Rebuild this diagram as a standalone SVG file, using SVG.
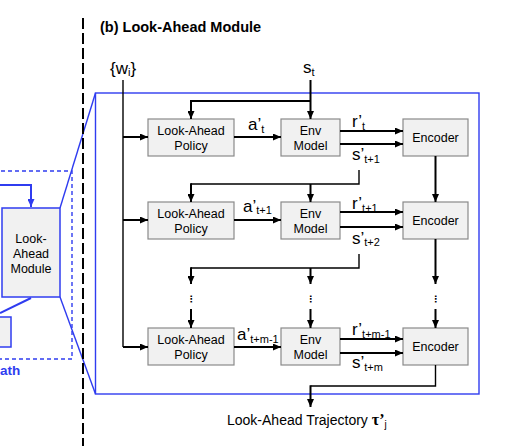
<svg xmlns="http://www.w3.org/2000/svg" width="514" height="446" viewBox="0 0 514 446">
<defs>
<marker id="ah" markerWidth="8" markerHeight="7" refX="8" refY="3.5" orient="auto" markerUnits="userSpaceOnUse"><path d="M0,0 L8,3.5 L0,7 z" fill="#000"/></marker>
<marker id="ahb" markerWidth="8" markerHeight="7" refX="8" refY="3.5" orient="auto" markerUnits="userSpaceOnUse"><path d="M0,0 L8,3.5 L0,7 z" fill="#2f3cf0"/></marker>
</defs>
<style>
.box{fill:#f1f1f1;stroke:#8a8a8a;stroke-width:1.2}
.bbox{fill:#f1f1f1;stroke:#2f3cf0;stroke-width:1.5}
.lbl{font-family:"Liberation Sans",Arial,sans-serif;font-size:12.5px;text-anchor:middle;fill:#000}
.ln{fill:none;stroke:#000;stroke-width:1.4}
.ar{fill:none;stroke:#000;stroke-width:2;marker-end:url(#ah)}
.m{font-family:"Liberation Sans",Arial,sans-serif;font-size:17px;fill:#000}
.s{font-size:11px}
.blue{fill:none;stroke:#2f3cf0;stroke-width:1.4}
.dots{font-family:"DejaVu Sans",sans-serif;font-size:9px;text-anchor:middle;fill:#000;font-weight:bold}
</style>
<rect width="514" height="446" fill="#fff"/>

<g id="left-context">
<rect x="-20" y="171" width="92" height="188" fill="none" stroke="#2f3cf0" stroke-width="1.4" stroke-dasharray="4 3"/>
<path d="M0,185 H31 V207" fill="none" stroke="#2f3cf0" stroke-width="2" marker-end="url(#ahb)"/>
<line x1="31" y1="298" x2="0" y2="313" stroke="#2f3cf0" stroke-width="2"/>
<rect x="-10" y="317" width="21" height="30" class="bbox"/>
<text x="0" y="375" font-family="Liberation Sans,Arial,sans-serif" font-weight="bold" font-size="13.5px" fill="#2f3cf0">ath</text>
</g>
<g id="module-small">
<rect x="2" y="208" width="58" height="89" class="bbox"/>
<text class="lbl" x="31" y="243">Look-</text>
<text class="lbl" x="31" y="258">Ahead</text>
<text class="lbl" x="31" y="273">Module</text>
</g>
<g id="zoom-lines">
<line x1="60" y1="208" x2="95.5" y2="93" class="blue"/>
<line x1="60" y1="297" x2="95.5" y2="394" class="blue"/>
<rect x="95.5" y="93" width="383.5" height="301" class="blue"/>
</g>
<line id="divider" x1="83" y1="18" x2="83" y2="446" stroke="#000" stroke-width="2" stroke-dasharray="11 4"/>

<text id="title" x="100" y="32" font-family="Liberation Sans,Arial,sans-serif" font-weight="bold" font-size="14.5px" fill="#000">(b) Look-Ahead Module</text>

<text id="w" class="m" x="110" y="74">{w<tspan class="s" dy="2">i</tspan><tspan dy="-2">}</tspan></text>
<text id="st" class="m" x="303" y="73">s<tspan class="s" dy="3">t</tspan></text>

<g id="policy1"><rect x="148" y="119" width="86" height="37" class="box"/><text class="lbl" x="191" y="135">Look-Ahead</text><text class="lbl" x="191" y="150">Policy</text></g>
<g id="env1"><rect x="281" y="119" width="59" height="37" class="box"/><text class="lbl" x="310.5" y="135">Env</text><text class="lbl" x="310.5" y="150">Model</text></g>
<g id="enc1"><rect x="403" y="119" width="65" height="37" class="box"/><text class="lbl" x="435.5" y="142">Encoder</text></g>

<g id="policy2"><rect x="148" y="202" width="86" height="37" class="box"/><text class="lbl" x="191" y="218">Look-Ahead</text><text class="lbl" x="191" y="233">Policy</text></g>
<g id="env2"><rect x="281" y="202" width="59" height="37" class="box"/><text class="lbl" x="310.5" y="218">Env</text><text class="lbl" x="310.5" y="233">Model</text></g>
<g id="enc2"><rect x="403" y="202" width="65" height="37" class="box"/><text class="lbl" x="435.5" y="225">Encoder</text></g>

<g id="policy3"><rect x="148" y="328" width="86" height="37" class="box"/><text class="lbl" x="191" y="344">Look-Ahead</text><text class="lbl" x="191" y="359">Policy</text></g>
<g id="env3"><rect x="281" y="328" width="59" height="37" class="box"/><text class="lbl" x="310.5" y="344">Env</text><text class="lbl" x="310.5" y="359">Model</text></g>
<g id="enc3"><rect x="403" y="328" width="65" height="37" class="box"/><text class="lbl" x="435.5" y="351">Encoder</text></g>

<g id="connectors">
<path class="ln" d="M123,80 V347"/>
<path class="ar" d="M123,137 H148"/>
<path class="ar" d="M123,220 H148"/>
<path class="ar" d="M123,347 H148"/>

<path class="ar" d="M310.5,80 V119"/>
<path class="ar" d="M310.5,101 H191 V119"/>

<path class="ar" d="M234,137 H281"/>
<path class="ar" d="M234,220 H281"/>
<path class="ar" d="M234,347 H281"/>

<path class="ar" d="M340,131 H403"/>
<path class="ar" d="M340,144 H403"/>
<path class="ar" d="M340,212 H403"/>
<path class="ar" d="M340,227 H403"/>
<path class="ar" d="M340,339 H403"/>
<path class="ar" d="M340,353 H403"/>

<path class="ln" d="M359,170 V184 H191"/>
<path class="ar" d="M191,183.3 V202"/>
<path class="ar" d="M310.5,184 V202"/>

<path class="ln" d="M359,254 V268 H191"/>
<path class="ar" d="M191,267.3 V284"/>
<path class="ar" d="M310.5,268 V284"/>

<path class="ar" d="M435.5,156 V202"/>
<path class="ar" d="M435.5,239 V284"/>

<path class="ar" d="M191,309 V328"/>
<path class="ar" d="M310.5,309 V328"/>
<path class="ar" d="M435.5,309 V328"/>

<path class="ln" d="M435.5,365 V386 H310.5"/>
<path class="ar" d="M310.5,385.3 V407"/>
</g>

<g id="dots">
<text class="dots" x="191" y="302">⋮</text>
<text class="dots" x="310.5" y="302">⋮</text>
<text class="dots" x="435.5" y="302">⋮</text>
</g>

<text class="m" x="248" y="130">a’<tspan class="s" dy="3">t</tspan></text>
<text class="m" x="243" y="212">a’<tspan class="s" dy="2">t+1</tspan></text>
<text class="m" x="237" y="340">a’<tspan class="s" dy="3">t+m-1</tspan></text>

<text class="m" x="352" y="127">r’<tspan class="s" dy="3">t</tspan></text>
<text class="m" x="352" y="160">s’<tspan class="s" dy="3">t+1</tspan></text>
<text class="m" x="352" y="209">r’<tspan class="s" dy="3">t+1</tspan></text>
<text class="m" x="352" y="244">s’<tspan class="s" dy="2">t+2</tspan></text>
<text class="m" x="352" y="335">r’<tspan class="s" dy="3">t+m-1</tspan></text>
<text class="m" x="352" y="368">s’<tspan class="s" dy="3">t+m</tspan></text>

<text id="traj" x="227" y="425" font-family="Liberation Sans,Arial,sans-serif" font-size="14px" fill="#000">Look-Ahead Trajectory <tspan font-family="Liberation Serif,serif" font-weight="bold" font-size="16px">τ’</tspan><tspan font-size="10px" dy="3">j</tspan></text>
</svg>
